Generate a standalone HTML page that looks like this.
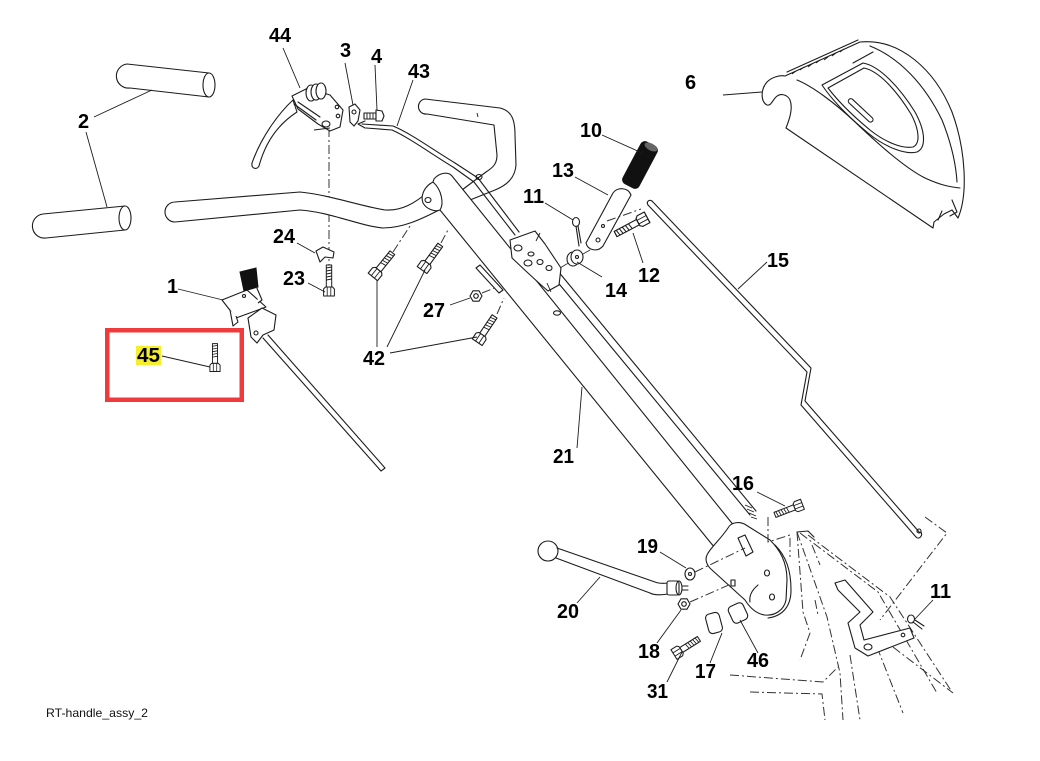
<!DOCTYPE html>
<html><head><meta charset="utf-8">
<style>
html,body{margin:0;padding:0;background:#fff;}
svg{display:block;}
.l{fill:none;stroke:#1c1c1c;stroke-width:1.1;stroke-linejoin:round;stroke-linecap:round}
.t{fill:none;stroke:#1c1c1c;stroke-width:0.9}
.d{fill:none;stroke:#333;stroke-width:1;stroke-dasharray:9 3 2 3}
.w{fill:#fff;stroke:#1c1c1c;stroke-width:1.1;stroke-linejoin:round}
.n{font-family:"Liberation Sans",Arial,sans-serif;font-weight:bold;font-size:20px;fill:#000}
.c{font-family:"Liberation Sans",Arial,sans-serif;font-size:12px;fill:#111}
</style></head><body>
<svg width="1040" height="761" viewBox="0 0 1040 761" xmlns="http://www.w3.org/2000/svg">
<defs>
 <g id="bolt">
  <rect class="w" x="4" y="-3" width="22" height="6"/>
  <path class="t" d="M11,-3 L12,3 M14,-3 L15,3 M17,-3 L18,3 M20,-3 L21,3 M23,-3 L24,3"/>
  <path class="w" d="M-5,-6 L2,-6 L4,-4 L4,4 L2,6 L-5,6 Z"/>
  <path class="t" d="M-5,-2 L4,-2 M-5,2 L4,2"/>
 </g>
 <g id="nut">
  <polygon class="w" points="6,0 3,5.2 -3,5.2 -6,0 -3,-5.2 3,-5.2"/>
  <circle class="l" r="2.3"/>
 </g>
</defs>

<!-- grips (2) -->
<path class="w" d="M127,64 L209,73 L209,97 L130,88 A12,12 0 0 1 127,64 Z"/>
<ellipse class="w" cx="209" cy="85" rx="6" ry="12"/>
<path class="w" d="M43,214 L125,206 L125,230 L46,238 A12,12 0 0 1 43,214 Z"/>
<ellipse class="w" cx="125" cy="218" rx="6" ry="12"/>
<path class="t" d="M94,117 L152,90 M86,132 L107,207"/>

<!-- dash-dot vertical line -->
<path class="d" d="M329,128 L329,290"/>

<!-- lower handlebar -->
<path class="w" d="M175,202 L300,192 C330,195 360,206 385,210 C402,211 415,203 428,192 L441,209 C420,220 402,228 383,228 C360,226 330,212 300,210 L175,222 A10,10 0 0 1 175,202 Z"/>

<!-- U handle -->
<path class="w" d="M425,99 L500,108 C512,111 515,120 515,135 L516,165 C515,178 507,185 495,190 L470,200 L462,190 L486,172 C494,167 497,163 497,155 L494,125 L427,114 A7.5,7.5 0 0 1 425,99 Z"/>
<ellipse class="l" cx="479" cy="177" rx="3" ry="2.5"/>
<path class="t" d="M477,113 L478,117"/>

<!-- cable 43 -->
<path class="l" d="M362,124 L393,126 C410,133 432,149 455,163 L478,178 L519,232"/>
<path class="l" d="M366,128 L392,130 C408,137 430,153 453,167 L474,182 L515,235"/>
<path class="l" d="M358,124 L365,121 M358,124 L365,128"/>

<!-- main tube 21 -->
<path class="w" d="M440,210 L719,553 L735,527 L452,176 C448,171 439,173 434,179 L433,182 Z"/>
<path class="w" d="M433,182 C425,186 420,195 423,203 C427,210 436,212 440,210 C444,204 442,190 433,182 Z"/>
<ellipse class="l" cx="428" cy="200" rx="3" ry="2.5"/>
<ellipse class="l" cx="557" cy="313" rx="3.5" ry="2.2"/>

<!-- rod to 16 -->
<path class="l" d="M541,262 L750,515 M548,259 L756,511"/>
<path class="t" d="M745,505 L752,508 M747,509 L754,512 M749,513 L756,516 M751,517 L757,519"/>

<!-- bracket on tube (11/14) -->
<path class="w" d="M510,240 L535,231 L545,244 L561,268 L559,285 L548,291 L540,284 L528,273 L512,258 Z"/>
<ellipse class="l" cx="518" cy="248" rx="4" ry="3"/>
<ellipse class="l" cx="531" cy="254" rx="3" ry="2"/>
<ellipse class="l" cx="528" cy="263" rx="4" ry="3"/>
<ellipse class="l" cx="540" cy="262" rx="3" ry="2.5"/>
<ellipse class="l" cx="549" cy="268" rx="3" ry="2.5"/>
<path class="t" d="M536,241 L540,233 M547,283 L551,292"/>

<!-- lever 44 assembly -->
<path class="w" d="M293,100 C280,112 262,135 252,163 C251,169 257,170 259,166 C266,140 280,123 297,112 Z"/>
<path class="w" d="M292,96 L308,88 L330,95 L343,110 L340,127 L330,131 L318,124 L298,109 Z"/>
<ellipse class="w" cx="311" cy="93" rx="5" ry="8"/>
<ellipse class="w" cx="316" cy="92" rx="5" ry="8"/>
<ellipse class="w" cx="321" cy="91" rx="5" ry="8"/>
<path class="l" d="M294,104 L316,120 M298,102 L320,117"/>
<ellipse class="w" cx="326" cy="124" rx="4" ry="3"/>
<circle class="l" cx="337" cy="107" r="1.8"/><circle class="l" cx="338" cy="116" r="1.8"/>
<path class="t" d="M314,130 L330,128"/>
<!-- part 3 -->
<path class="w" d="M349,107 L355,104 L360,110 L358,121 L354,126 L350,122 Z"/>
<circle class="l" cx="354" cy="112" r="2"/>
<!-- part 4 bolt -->
<rect class="w" x="364" y="113" width="12" height="6"/>
<path class="t" d="M367,113 L367,119 M370,113 L370,119 M373,113 L373,119"/>
<path class="w" d="M376,110 L382,111 L384,116 L382,121 L376,121 Z"/>

<!-- part 24 clip & 23 bolt -->
<path class="w" d="M316,251 L323,247 L334,252 L333,258 L325,257 L320,262 Z"/>
<use href="#bolt" transform="translate(329,291) rotate(-90) scale(1,0.9)"/>

<!-- part 1 -->
<path class="w" d="M222,300 L247,290 L266,307 L236,318 Z"/>
<path fill="#111" stroke="#111" d="M240,272 L256,268 L258,287 L244,291 Z"/>
<path class="w" d="M256,286 L262,300 L258,303"/>
<path class="w" d="M248,318 L262,308 L276,315 L274,330 L263,335 L257,343 L251,337 Z"/>
<path class="w" d="M230,310 L233,326 L238,322 L236,316"/>
<circle class="l" cx="256" cy="333" r="2"/><circle class="l" cx="244" cy="296" r="1.5"/>
<path class="l" d="M263,338 L381,471 M268,335 L385,468 M381,471 L385,468"/>

<!-- 45 bolt -->
<use href="#bolt" transform="translate(215,367) rotate(-90) scale(0.9,0.85)"/>

<!-- 42 bolts + dashes -->
<use href="#bolt" transform="translate(376,273) rotate(-51)"/>
<use href="#bolt" transform="translate(425,266) rotate(-54)"/>
<use href="#bolt" transform="translate(480,338) rotate(-56)"/>
<path class="d" d="M393,252 L410,226 M441,243 L449,228 M497,314 L504,298"/>

<!-- 27 nut & strip -->
<use href="#nut" transform="translate(476,296)"/>
<path class="w" d="M476,268 L480,265 L503,290 L499,293 Z"/>
<path class="d" d="M482,293 L497,287"/>

<!-- lever 13, grip 10, bushing 14, pin 11, bolt 12 -->
<path class="w" d="M613,193 C617,187 628,187 631,195 L603,246 C598,252 588,251 586,243 Z"/>
<circle class="l" cx="598" cy="240" r="2"/><circle class="l" cx="603" cy="226" r="1.5"/>
<rect x="-24" y="-9.5" width="48" height="19" rx="5" fill="#111" transform="translate(640,165) rotate(-62)"/>
<ellipse cx="651" cy="147" rx="7" ry="3.5" fill="#666" transform="rotate(28 651 147)"/>
<path class="d" d="M607,221 L641,209"/>
<use href="#bolt" transform="translate(642,220) rotate(152) scale(1.15,1)"/>
<ellipse class="w" cx="573" cy="259" rx="6" ry="7"/>
<ellipse class="w" cx="577" cy="257" rx="6" ry="7"/>
<circle class="l" cx="577" cy="257" r="1.5"/>
<path class="d" d="M560,268 L570,262 M583,254 L590,250"/>
<ellipse class="w" cx="576" cy="222" rx="3.5" ry="4.5"/>
<path class="l" d="M576,226 L579,246 M578,226 L581,243"/>

<!-- cover 6 -->
<path class="w" d="M785,76 L860,42 C900,38 935,70 952,112 C966,150 968,195 958,218 L952,210 L944,214 L934,222 L933,228 L786,128 C790,118 793,108 790,100 C787,94 780,93 776,97 C772,101 771,106 767,105 C761,102 760,90 767,82 C772,77 780,75 785,76 Z"/>
<path class="l" d="M787,72 L858,40"/>
<path class="t" d="M792,74 L796,71 M800,70 L804,67 M808,67 L812,64 M816,63 L820,60 M824,60 L828,57 M832,56 L836,53 M840,52 L844,49"/>
<path class="l" d="M797,80 C812,86 835,103 855,122 C878,144 905,168 925,178 C940,185 950,187 960,188"/>
<path class="l" d="M870,46 C900,58 925,85 942,120 C952,145 956,165 957,182"/>
<path class="l" d="M822,85 L863,63 C880,66 900,88 915,112 C926,132 926,148 917,152 C905,155 885,147 868,133 C850,118 832,100 822,85 Z"/>
<path class="l" d="M828,88 L864,68 C879,71 897,91 911,114 C920,131 920,144 913,147 C902,149 885,142 870,130 C853,116 838,101 828,88 Z"/>
<path class="l" d="M853,63 L873,52"/>
<rect class="l" x="845" y="108" width="32" height="5" rx="2.5" transform="rotate(43 861 110)"/>
<path class="l" d="M952,200 L957,212 L950,216 M942,211 L938,220"/>

<!-- rod 15 -->
<path class="l" d="M648,205 L807,372 L801,405 L916,537 C919,540 923,536 921,532"/>
<path class="l" d="M652,201 L811,368 L805,401 L920,533"/>
<path class="l" d="M648,205 C646,202 649,199 652,201"/>
<circle class="l" cx="919" cy="531" r="2"/>
<path class="t" d="M767,262 L738,289"/>

<!-- bottom bracket plate -->
<path class="w" d="M707,555 C710,548 720,540 728,528 C731,522 740,521 746,525 L770,540 C780,550 787,562 787,580 L786,600 C784,610 775,616 765,615 C757,614 750,608 745,600 L712,570 C706,565 705,559 707,555 Z"/>
<path class="l" d="M775,545 C786,556 791,570 791,590 C791,606 783,616 768,618"/>
<path class="l" d="M738,538 L745,535 L753,552 L746,556 Z"/>
<ellipse class="l" cx="767" cy="573" rx="2.5" ry="3"/>
<ellipse class="l" cx="772" cy="597" rx="2.5" ry="3"/>
<path class="l" d="M758,585 C752,590 749,596 750,602"/>
<rect class="w" x="731" y="580" width="4" height="6"/>

<!-- 16 bolt & dashed bracket -->
<use href="#bolt" transform="translate(798,506) rotate(159) scale(0.95,0.9)"/>
<path class="d" d="M768,517 L768,542 L790,535 L790,557"/>

<!-- handle 20 -->
<circle class="w" cx="548" cy="551" r="10"/>
<path class="l" d="M557,548 L655,582 Q660,584 668,583 M556,558 L650,593 Q655,596 668,594"/>
<rect class="w" x="667" y="581" width="12" height="14" rx="2"/>
<ellipse class="l" cx="679" cy="588" rx="3" ry="7"/>
<path class="l" d="M682,586 L688,586 M682,590 L688,590"/>
<ellipse class="w" cx="690" cy="574" rx="5" ry="6"/>
<circle class="l" cx="690" cy="574" r="1.5"/>
<path class="d" d="M695,572 L745,548"/>
<use href="#nut" transform="translate(684,604)"/>
<path class="d" d="M690,602 L731,584"/>
<use href="#bolt" transform="translate(678,652) rotate(-32) scale(0.95,0.95)"/>
<rect class="w" x="-7" y="-10" width="14" height="20" rx="4" transform="translate(714,623) rotate(-15)"/>
<rect class="w" x="-8" y="-9" width="16" height="18" rx="4" transform="translate(738,613) rotate(-25)"/>

<!-- tiller frame dashed -->
<path class="d" d="M797,532 L803,612 L810,633 L800,660"/>
<path class="d" d="M800,533 L878,592 L937,693"/>
<path class="d" d="M808,535 L890,597 L952,692"/>
<path class="d" d="M797,532 L827,617 L840,673 L843,720"/>
<path class="d" d="M730,675 L823,682 L838,667"/>
<path class="d" d="M750,692 L822,694 L825,720"/>
<path class="d" d="M925,517 L947,533 L880,620"/>
<path class="d" d="M877,647 L903,713 M893,647 L953,693 M850,655 L860,720"/>
<path class="d" d="M812,545 L820,565 M815,600 L818,615"/>
<path class="l" d="M797,532 L808,531 L814,537"/>

<!-- bracket 11 lower -->
<path class="w" d="M835,583 L845,580 L873,612 L860,625 L864,640 L910,628 L914,638 L868,656 L855,648 L848,623 L860,612 L838,590 Z"/>
<ellipse class="l" cx="868" cy="647" rx="4" ry="3"/>
<circle class="l" cx="903" cy="635" r="1.8"/>
<ellipse class="w" cx="911" cy="619" rx="3.5" ry="4"/>
<path class="l" d="M913,622 L922,629 M915,620 L924,626"/>

<!-- leader lines -->
<path class="t" d="M283,48 L300,88 M345,63 L353,105 M375,65 L377,110 M413,80 L397,126"/>
<path class="t" d="M297,243 L315,253 M308,283 L325,292 M178,289 L223,300 M162,356 L210,367"/>
<path class="t" d="M377,347 L377,280 M387,347 L425,270 M390,353 L477,337 M450,305 L470,298"/>
<path class="t" d="M602,135 L642,153 M575,177 L608,195 M545,203 L573,220 M602,277 L577,262 M643,263 L633,233"/>
<path class="t" d="M723,95 L762,92"/>
<path class="t" d="M577,448 L582,387 M577,603 L600,577 M660,552 L686,568 M757,492 L785,506"/>
<path class="t" d="M933,600 L915,619 M657,643 L681,610 M667,682 L682,652 M710,663 L722,633 M758,653 L740,620"/>

<!-- red box & highlight -->
<rect x="107.25" y="330.25" width="134.5" height="69.5" fill="none" stroke="#ef3b3b" stroke-width="4.5"/>
<rect x="136" y="346" width="25" height="19" fill="#f5ee2c"/>

<!-- labels -->
<text class="n" x="269" y="42" textLength="22" lengthAdjust="spacingAndGlyphs">44</text>
<text class="n" x="340" y="57">3</text>
<text class="n" x="371" y="63">4</text>
<text class="n" x="408" y="78" textLength="22" lengthAdjust="spacingAndGlyphs">43</text>
<text class="n" x="78" y="128">2</text>
<text class="n" x="685" y="89">6</text>
<text class="n" x="580" y="137" textLength="22" lengthAdjust="spacingAndGlyphs">10</text>
<text class="n" x="552" y="177" textLength="22" lengthAdjust="spacingAndGlyphs">13</text>
<text class="n" x="523" y="203" textLength="21" lengthAdjust="spacingAndGlyphs">11</text>
<text class="n" x="273" y="243" textLength="22" lengthAdjust="spacingAndGlyphs">24</text>
<text class="n" x="283" y="285" textLength="22" lengthAdjust="spacingAndGlyphs">23</text>
<text class="n" x="167" y="293">1</text>
<text class="n" x="638" y="282" textLength="22" lengthAdjust="spacingAndGlyphs">12</text>
<text class="n" x="605" y="297" textLength="22" lengthAdjust="spacingAndGlyphs">14</text>
<text class="n" x="767" y="267" textLength="22" lengthAdjust="spacingAndGlyphs">15</text>
<text class="n" x="423" y="317" textLength="22" lengthAdjust="spacingAndGlyphs">27</text>
<text class="n" x="363" y="365" textLength="22" lengthAdjust="spacingAndGlyphs">42</text>
<text class="n" x="137" y="362" textLength="23" lengthAdjust="spacingAndGlyphs">45</text>
<text class="n" x="553" y="463" textLength="21" lengthAdjust="spacingAndGlyphs">21</text>
<text class="n" x="732" y="490" textLength="22" lengthAdjust="spacingAndGlyphs">16</text>
<text class="n" x="637" y="553" textLength="21" lengthAdjust="spacingAndGlyphs">19</text>
<text class="n" x="557" y="618" textLength="22" lengthAdjust="spacingAndGlyphs">20</text>
<text class="n" x="930" y="598" textLength="21" lengthAdjust="spacingAndGlyphs">11</text>
<text class="n" x="638" y="658" textLength="22" lengthAdjust="spacingAndGlyphs">18</text>
<text class="n" x="695" y="678" textLength="21" lengthAdjust="spacingAndGlyphs">17</text>
<text class="n" x="747" y="667" textLength="22" lengthAdjust="spacingAndGlyphs">46</text>
<text class="n" x="647" y="698" textLength="21" lengthAdjust="spacingAndGlyphs">31</text>

<text class="c" x="46" y="717" textLength="102" lengthAdjust="spacingAndGlyphs">RT-handle_assy_2</text>
</svg>
</body></html>
